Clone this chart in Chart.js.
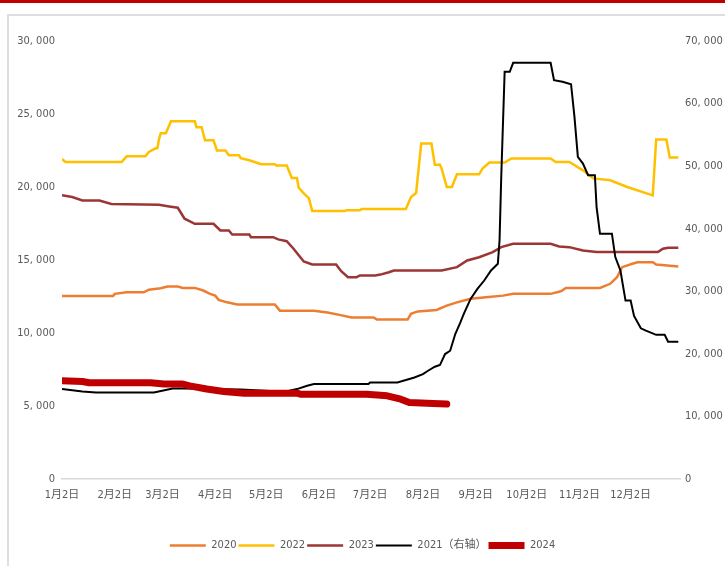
<!DOCTYPE html>
<html lang="zh">
  <head>
    <meta charset="UTF-8" />
    <title>价格走势</title>
    <script src="https://cdn.jsdelivr.net/npm/chart.js"></script>
    <style>
      html, body { margin: 0; padding: 0; background: #fff; }
      .page { position: relative; width: 725px; height: 566px; overflow: hidden; }
      .topbar { position: absolute; left: 0; top: 0; width: 725px; height: 3px; background: #c00000; }
      .frame {
        position: absolute; left: 7px; top: 14px; width: 730px; height: 560px;
        border-left: 2px solid #dedede; border-top: 2px solid #dedede;
      }
      #chart { position: absolute; left: 0; top: 0; }
    </style>
  </head>
  <body>
    <div class="page">
      <div class="topbar"></div>
      <div class="frame"></div>
      <canvas id="chart" width="725" height="566"></canvas>
    </div>

    <script>
      // x = days after Jan 2
      const tickDays = [0, 31, 59, 90, 120, 151, 181, 212, 243, 273, 304, 334];
      const tickLabels = ["1月2日", "2月2日", "3月2日", "4月2日", "5月2日", "6月2日",
        "7月2日", "8月2日", "9月2日", "10月2日", "11月2日", "12月2日"];

      const days2020 = [0, 30, 31, 38, 48, 51, 58, 62, 68, 71, 78, 83, 87, 90, 92, 97, 103, 125, 128, 148,
        156, 163, 170, 183, 185, 203, 205, 209, 220, 226, 232, 240, 249, 259, 265, 287, 293, 296, 316, 322,
        326, 329, 335, 338, 347, 349, 362];
      const vals2020 = [12540, 12540, 12680, 12790, 12790, 12970, 13060, 13180, 13180, 13090, 13090, 12910,
        12680, 12560, 12270, 12100, 11950, 11950, 11530, 11530, 11400, 11240, 11070, 11070, 10920, 10920,
        11310, 11480, 11580, 11880, 12100, 12340, 12450, 12560, 12680, 12680, 12860, 13090, 13090, 13370,
        13820, 14510, 14740, 14850, 14850, 14690, 14550];

      const days2022 = [0, 2, 35, 38, 49, 51, 55, 56, 57, 58, 61, 64, 78, 79, 82, 84, 89, 91, 96, 98,
        104, 105, 110, 117, 125, 126, 132, 135, 138, 139, 142, 145, 147, 166, 167, 175, 176, 202, 205, 208,
        211, 217, 219, 222, 223, 226, 229, 232, 245, 247, 251, 260, 264, 287, 290, 298, 306, 312, 322, 332,
        347, 349, 355, 357, 362];
      const vals2022 = [21920, 21710, 21710, 22100, 22100, 22400, 22650, 22650, 23270, 23680, 23680, 24510,
        24510, 24100, 24100, 23200, 23200, 22500, 22500, 22170, 22170, 21970, 21830, 21560, 21560, 21470,
        21470, 20610, 20610, 19960, 19560, 19240, 18350, 18350, 18400, 18400, 18490, 18490, 19310, 19590,
        22980, 22980, 21530, 21530, 21260, 20000, 20000, 20870, 20870, 21260, 21670, 21670, 21950, 21950,
        21710, 21710, 21140, 20590, 20460, 20000, 19430, 23250, 23250, 22020, 22020];

      const days2023 = [0, 6, 12, 22, 29, 57, 63, 68, 72, 78, 89, 93, 98, 100, 110, 111, 124, 127, 132, 136,
        142, 147, 161, 164, 168, 173, 175, 184, 187, 192, 195, 223, 232, 238, 245, 253, 258, 265, 287, 292,
        298, 306, 314, 350, 353, 356, 362];
      const vals2023 = [19430, 19310, 19080, 19080, 18840, 18790, 18670, 18580, 17830, 17480, 17480, 17020,
        17020, 16750, 16750, 16560, 16560, 16410, 16290, 15770, 14900, 14690, 14690, 14230, 13820, 13820,
        13940, 13940, 14000, 14160, 14280, 14280, 14510, 14970, 15190, 15540, 15880, 16110, 16110, 15930,
        15880, 15650, 15540, 15540, 15770, 15840, 15840];

      // 2021 is read on the right axis
      const days2021 = [0, 12, 20, 54, 65, 71, 105, 131, 138, 144, 148, 180, 181, 197, 202, 207, 212, 215,
        219, 222, 225, 228, 231, 234, 236, 240, 244, 248, 252, 256, 257, 258, 260, 263, 265, 287, 289, 294,
        299, 301, 303, 306, 309, 313, 314, 316, 323, 325, 328, 331, 334, 336, 340, 343, 349, 354, 356, 362];
      const vals2021 = [14370, 13980, 13820, 13820, 14460, 14460, 14300, 13940, 14370, 14900, 15170, 15170,
        15430, 15430, 15810, 16230, 16760, 17300, 17940, 18210, 19970, 20500, 23170, 25040, 26380, 28780,
        30380, 31720, 33320, 34390, 38120, 48270, 65080, 65080, 66520, 66520, 63750, 63480, 63100, 57900,
        51470, 50410, 48550, 48550, 43460, 39200, 39200, 35460, 33320, 28520, 28520, 26060, 24080, 23700,
        23040, 23040, 21930, 21930];

      const days2024 = [0, 12, 16, 52, 60, 71, 75, 85, 95, 107, 138, 140, 179, 191, 199, 204, 218, 226];
      const vals2024 = [6730, 6680, 6590, 6590, 6500, 6500, 6380, 6160, 5990, 5880, 5880, 5810, 5810, 5700,
        5470, 5240, 5170, 5130];

      const FONT = "'Liberation Sans Narrow', 'DejaVu Sans Condensed', 'Noto Sans CJK SC', sans-serif";
      const GREY = "#595959";

      function pts(days, vals) {
        return days.map((d, i) => ({ x: d, y: vals[i] }));
      }
      function fmt(v) {
        return v.toLocaleString("en-US").replace(",", ", ");
      }

      const datasets = [
        { label: "2020", data: pts(days2020, vals2020), borderColor: "#ed7d31", borderWidth: 2.5, order: 4, yAxisID: "y" },
        { label: "2022", data: pts(days2022, vals2022), borderColor: "#ffc000", borderWidth: 2.5, order: 3, yAxisID: "y" },
        { label: "2023", data: pts(days2023, vals2023), borderColor: "#9b3634", borderWidth: 2.5, order: 2, yAxisID: "y" },
        { label: "2021（右轴）", data: pts(days2021, vals2021), borderColor: "#000000", borderWidth: 2, order: 1, yAxisID: "y1" },
        { label: "2024", data: pts(days2024, vals2024), borderColor: "#c00000", borderWidth: 7, order: 0, yAxisID: "y",
          borderCapStyle: "round", borderJoinStyle: "round" },
      ];
      datasets.forEach((ds) => {
        ds.backgroundColor = ds.borderColor;
        ds.pointRadius = 0;
        ds.tension = 0;
        ds.fill = false;
      });

      new Chart(document.getElementById("chart"), {
        type: "line",
        data: { datasets: datasets },
        options: {
          responsive: false,
          animation: false,
          layout: { padding: { top: 41, left: 0, right: 0, bottom: 5 } },
          plugins: {
            tooltip: { enabled: false },
            legend: {
              position: "bottom",
              labels: {
                usePointStyle: true,
                pointStyle: "line",
                pointStyleWidth: 36,
                padding: 2,
                color: GREY,
                font: { family: FONT, size: 11 },
                sort: (a, b) => a.datasetIndex - b.datasetIndex,
              },
            },
          },
          scales: {
            x: {
              type: "linear",
              min: 0,
              max: 363,
              afterBuildTicks: (s) => { s.ticks = tickDays.map((v) => ({ value: v })); },
              afterFit: (s) => { s.height = 59; },
              grid: { display: false, drawTicks: false },
              border: { display: true, color: "#d9d9d9", width: 1.5 },
              ticks: {
                autoSkip: false,
                maxRotation: 0,
                padding: 10,
                color: GREY,
                font: { family: FONT, size: 11 },
                callback: (v) => tickLabels[tickDays.indexOf(v)],
              },
            },
            y: {
              position: "left",
              min: 0,
              max: 30000,
              afterFit: (s) => { s.width = 62; },
              grid: { display: false, drawTicks: false },
              border: { display: false },
              ticks: { stepSize: 5000, padding: 7, color: GREY, font: { family: FONT, size: 11 }, callback: fmt },
            },
            y1: {
              position: "right",
              min: 0,
              max: 70000,
              afterFit: (s) => { s.width = 45; },
              grid: { display: false, drawTicks: false },
              border: { display: false },
              ticks: { stepSize: 10000, padding: 5, color: GREY, font: { family: FONT, size: 11 }, callback: fmt },
            },
          },
        },
      });
    </script>
  </body>
</html>
